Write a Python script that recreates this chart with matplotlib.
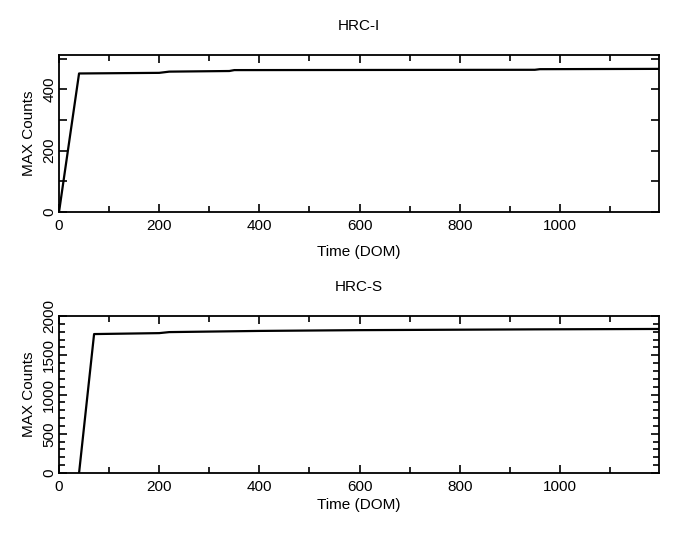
import matplotlib
matplotlib.use('Agg')
import matplotlib.pyplot as plt
from matplotlib.ticker import MultipleLocator

plt.rcParams['font.family'] = ['Liberation Sans', 'DejaVu Sans']

# HRC-I max counts vs day of mission
hrci_dom = [0, 40, 200, 220, 340, 350, 950, 960, 1198]
hrci_max = [0, 452, 454, 458, 460, 463, 464, 466, 467]

# HRC-S max counts vs day of mission
hrcs_dom = [40, 70, 200, 220, 400, 600, 950, 1198]
hrcs_max = [0, 1770, 1782, 1795, 1810, 1820, 1830, 1835]

xmax = 1198

fig = plt.figure(figsize=(6.8, 5.4), dpi=100)
ax1 = fig.add_axes([0.0868, 0.6074, 0.8824, 0.2906])
ax2 = fig.add_axes([0.0868, 0.124, 0.8824, 0.2908])

def style(ax, title, ymax, ymajor, yminor, xpad):
    ax.set_xlim(0, xmax)
    ax.set_ylim(0, ymax)
    ax.xaxis.set_major_locator(MultipleLocator(200))
    ax.xaxis.set_minor_locator(MultipleLocator(100))
    ax.yaxis.set_major_locator(MultipleLocator(ymajor))
    ax.yaxis.set_minor_locator(MultipleLocator(yminor))
    ax.tick_params(which='both', direction='in', top=True, right=True,
                   labelsize=11, width=1.2)
    ax.tick_params(which='major', length=6, pad=5)
    ax.tick_params(which='minor', length=4)
    ax.tick_params(axis='y', labelrotation=90, pad=2)
    for lbl in ax.get_yticklabels():
        lbl.set_va('center')
    for s in ax.spines.values():
        s.set_linewidth(1.3)
    ax.set_title(title, fontsize=11, pad=18)
    ax.set_xlabel('Time (DOM)', fontsize=11, labelpad=xpad)
    ax.set_ylabel('MAX Counts', fontsize=11, labelpad=4.5)

ax1.plot(hrci_dom, hrci_max, color='black', lw=1.6)
style(ax1, 'HRC-I', 512, 200, 100, 9)
ax1.tick_params(axis='y', which='minor', length=6)

ax2.plot(hrcs_dom, hrcs_max, color='black', lw=1.6)
style(ax2, 'HRC-S', 2000, 500, 100, 3)

fig.savefig('out.png', dpi=100)
